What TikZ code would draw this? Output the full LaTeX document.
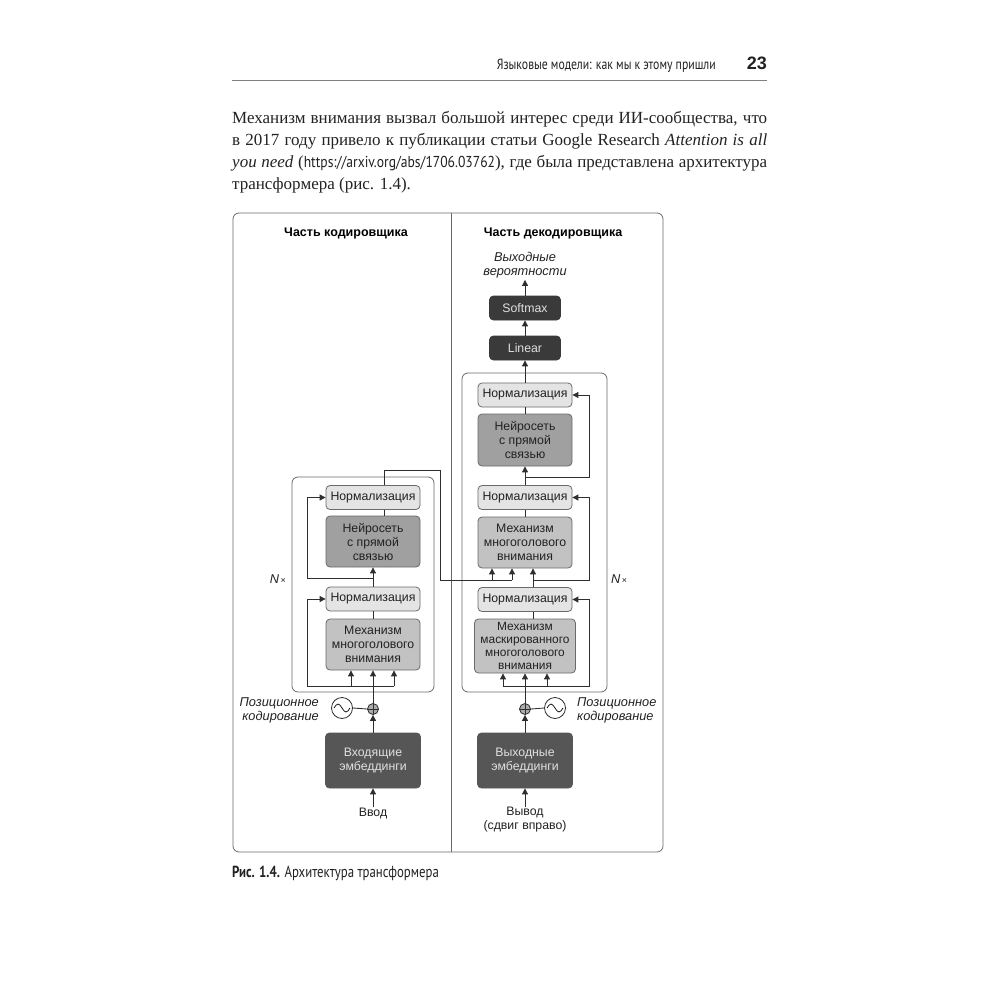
\documentclass[tikz,border=0pt]{standalone}
\usepackage{fontspec}
\setmainfont{Liberation Serif}
\newfontfamily\figfont{Liberation Sans}
\newfontfamily\condfont[FakeStretch=0.8]{PT Sans}
\newfontfamily\urlfnt[FakeStretch=0.86]{PT Sans}
\usetikzlibrary{arrows.meta,calc}
\definecolor{lnc}{HTML}{2E2E2E}
\definecolor{frm}{HTML}{6A6A6A}
\definecolor{normc}{HTML}{E4E4E4}
\definecolor{mhac}{HTML}{C2C2C2}
\definecolor{ffc}{HTML}{A0A0A0}
\definecolor{darkc}{HTML}{3A3A3A}
\definecolor{embc}{HTML}{565656}
\definecolor{txtc}{HTML}{222222}
\tikzset{
  blk/.style={draw=frm, line width=0.8pt, rounded corners=4pt, inner sep=0pt, align=center,
    font=\figfont\fontsize{12.3}{14}\selectfont, text=txtc},
  normbox/.style={blk, fill=normc, minimum width=94pt, minimum height=24pt},
  ffbox/.style={blk, fill=ffc, minimum width=94pt, minimum height=51pt},
  mhabox/.style={blk, fill=mhac, minimum width=94pt, minimum height=51pt},
  darkbox/.style={blk, fill=darkc, draw=darkc, text=white!88!black, minimum width=71pt, minimum height=24pt},
  embbox/.style={blk, fill=embc, draw=embc, text=white!88!black, minimum width=95pt, minimum height=55pt},
  lbl/.style={inner sep=0pt, align=center, font=\figfont\fontsize{12.3}{14}\selectfont, text=txtc},
  ilbl/.style={inner sep=0pt, font=\figfont\itshape\fontsize{12.8}{13.5}\selectfont, text=txtc},
  ttl/.style={inner sep=0pt, font=\figfont\bfseries\fontsize{12.5}{13.5}\selectfont, text=black},
  plusc/.style={circle, draw=lnc, fill=gray!65, line width=0.8pt, minimum size=11pt, inner sep=0pt},
  sinec/.style={circle, draw=lnc, fill=white, line width=0.8pt, minimum size=21pt, inner sep=0pt},
  ln/.style={draw=lnc, line width=0.85pt},
  arr/.style={ln, -{Triangle[length=6pt,width=6pt]}},
  frame/.style={draw=frm, line width=0.8pt, rounded corners=6pt},
}
\begin{document}
\begin{tikzpicture}[x=1pt,y=-1pt]
\useasboundingbox (0,0) rectangle (1000,1000);
\fill[white] (0,0) rectangle (1000,1000);

% ---------- page header ----------
\node[anchor=base east, inner sep=0pt, font=\condfont\fontsize{14.7}{15}\selectfont, text=txtc] (hdr) at (716,70) {Языковые модели: как мы к этому пришли};
\node[anchor=base east, inner sep=0pt, font=\figfont\bfseries\fontsize{18}{18}\selectfont, text=txtc] (pg) at (767,70) {23};
\draw[line width=0.8pt, gray] (232,80) -- (767,80);

% ---------- paragraph ----------
\begin{scope}[every node/.style={anchor=base west, inner sep=0pt, font=\fontsize{17}{22}\selectfont, text=txtc}]
\node (p1) at (232,124) {\makebox[535pt][s]{Механизм внимания вызвал большой интерес среди ИИ-сообщества, что}};
\node (p2) at (232,146) {\makebox[535pt][s]{в 2017 году привело к публикации статьи Google Research \textit{Attention is all}}};
\node (p3) at (232,168) {\makebox[535pt][s]{\textit{you need} ({\urlfnt\fontsize{15.8}{16}\selectfont https://arxiv.org/abs/1706.03762}), где была представлена архитектура}};
\node (p4) at (232,190) {трансформера (рис. 1.4).};
\end{scope}

% ---------- figure frame ----------
\draw[frame] (233,213) rectangle (663,852);
\draw[draw=frm, line width=0.8pt] (451.5,213) -- (451.5,852);
\node[ttl] (t1) at (346,233) {Часть кодировщика};
\node[ttl] (t2) at (553,233) {Часть декодировщика};

% ---------- encoder ----------
\draw[frame] (292,477) rectangle (434,692);
\node[normbox] (en2) at (373,497.5) {Нормализация};
\node[ffbox] (enff) at (373,541.5) {Нейросеть\\с прямой\\связью};
\node[normbox] (en1) at (373,599) {Нормализация};
\node[mhabox] (enmha) at (373,644.5) {Механизм\\многоголового\\внимания};
\node[embbox] (enemb) at (373,760.5) {Входящие\\эмбеддинги};
\node[plusc] (enplus) at (373,709) {};
\node[sinec] (ensin) at (342,708) {};
\node[lbl] (enin) at (373,813) {Ввод};
\node[ilbl, align=right, anchor=east] (enpos) at (319,710.5) {Позиционное\\кодирование};
\node[ilbl, anchor=east] (ennx) at (286,579) {N{\upshape\fontsize{9}{9}\selectfont\,×}};

\draw[arr] (enin.north) -- (enemb.south);
\draw[arr] (enemb.north) -- (enplus.south);
\draw[ln] (ensin.east) -- (enplus.west);
\draw[ln] (enplus.north) -- (enplus.south) (enplus.west) -- (enplus.east);
\draw[line width=0.7pt] ([xshift=-8pt]ensin.center) sin ++(4,-4) cos ++(4,4) sin ++(4,4) cos ++(4,-4);
\draw[arr] (enplus.north) -- (enmha.south);
\coordinate (eL) at (307,686);
\coordinate (eML) at (351,686);
\coordinate (eR) at (394,686);
\draw[arr] (eR) -- (eL) |- (en1.west);
\draw[arr] (eR) -- (eR |- enmha.south);
\draw[arr] (eML) -- (eML |- enmha.south);
\draw[ln] (enmha.north) -- (en1.south);
\draw[arr] (en1.north) -- (enff.south);
\coordinate (eB) at (373,578);
\coordinate (eL2) at (307,578);
\draw[arr] (eB) -- (eL2) |- (en2.west);
\coordinate (encx) at (384,0);
\draw[ln] (enff.north -| encx) -- (en2.south -| encx);

% ---------- decoder ----------
\draw[frame] (462,373) rectangle (607,692);
\node[ilbl, align=center] (outp) at (525,265) {Выходные\\вероятности};
\node[darkbox] (soft) at (525,308) {Softmax};
\node[darkbox] (lin) at (525,348) {Linear};
\node[normbox] (dn3) at (525,395) {Нормализация};
\node[ffbox, minimum height=52pt] (dff) at (525,440) {Нейросеть\\с прямой\\связью};
\node[normbox] (dn2) at (525,497.5) {Нормализация};
\node[mhabox] (dmha) at (525,542.5) {Механизм\\многоголового\\внимания};
\node[normbox] (dn1) at (525,599.5) {Нормализация};
\node[mhabox, minimum width=101pt, minimum height=54pt, font=\figfont\fontsize{11.9}{13.2}\selectfont] (dmmha) at (525,646) {Механизм\\маскированного\\многоголового\\внимания};
\node[embbox] (demb) at (525,760.5) {Выходные\\эмбеддинги};
\node[plusc] (dplus) at (525,709) {};
\node[sinec] (dsin) at (555,708) {};
\node[lbl] (dout) at (525,819.5) {Вывод\\(сдвиг вправо)};
\node[ilbl, align=left, anchor=west] (dpos) at (577,710.5) {Позиционное\\кодирование};
\node[ilbl, anchor=west] (dnx) at (611,579) {N{\upshape\fontsize{9}{9}\selectfont\,×}};

\draw[arr] (dout.north) -- (demb.south);
\draw[arr] (demb.north) -- (dplus.south);
\draw[ln] (dsin.west) -- (dplus.east);
\draw[ln] (dplus.north) -- (dplus.south) (dplus.west) -- (dplus.east);
\draw[line width=0.7pt] ([xshift=-8pt]dsin.center) sin ++(4,-4) cos ++(4,4) sin ++(4,4) cos ++(4,-4);
\draw[arr] (dplus.north) -- (dmmha.south);
\coordinate (dL) at (503,686);
\coordinate (dMR) at (547,686);
\coordinate (dR) at (589,686);
\draw[arr] (dL) -- (dR) |- (dn1.east);
\draw[arr] (dL) -- (dL |- dmmha.south);
\draw[arr] (dMR) -- (dMR |- dmmha.south);
\coordinate (decx) at (533,0);
\draw[ln] (dmmha.north -| decx) -- (dn1.south -| decx);
\draw[arr] (dn1.north -| decx) -- (dmha.south -| decx);
\coordinate (dB1) at (533,580);
\coordinate (dR1) at (589,580);
\draw[arr] (dB1) -- (dR1) |- (dn2.east);
\draw[ln] (dmha.north) -- (dn2.south);
\draw[arr] (dn2.north) -- (dff.south);
\coordinate (dB2) at (525,477);
\coordinate (dR2) at (589,477);
\draw[arr] (dB2) -- (dR2) |- (dn3.east);
\draw[ln] (dff.north) -- (dn3.south);
\draw[arr] (dn3.north) -- (lin.south);
\draw[arr] (lin.north) -- (soft.south);
\draw[arr] (soft.north) -- ([yshift=-2pt]outp.south);

% ---------- encoder -> decoder connector ----------
\coordinate (c1) at (384,470);
\coordinate (c2) at (440,470);
\coordinate (c3) at (440,580);
\coordinate (cA) at (492,580);
\coordinate (cB) at (512,580);
\draw[ln] (en2.north -| encx) -- (c1) -- (c2) -- (c3) -- (cB);
\draw[arr] (cA) -- (cA |- dmha.south);
\draw[arr] (cB) -- (cB |- dmha.south);

% ---------- caption ----------
\node[anchor=base west, inner sep=0pt, font=\condfont\fontsize{16}{16}\selectfont, text=txtc] (cap) at (232,877) {\textbf{Рис. 1.4.} Архитектура трансформера};
\end{tikzpicture}
\end{document}
